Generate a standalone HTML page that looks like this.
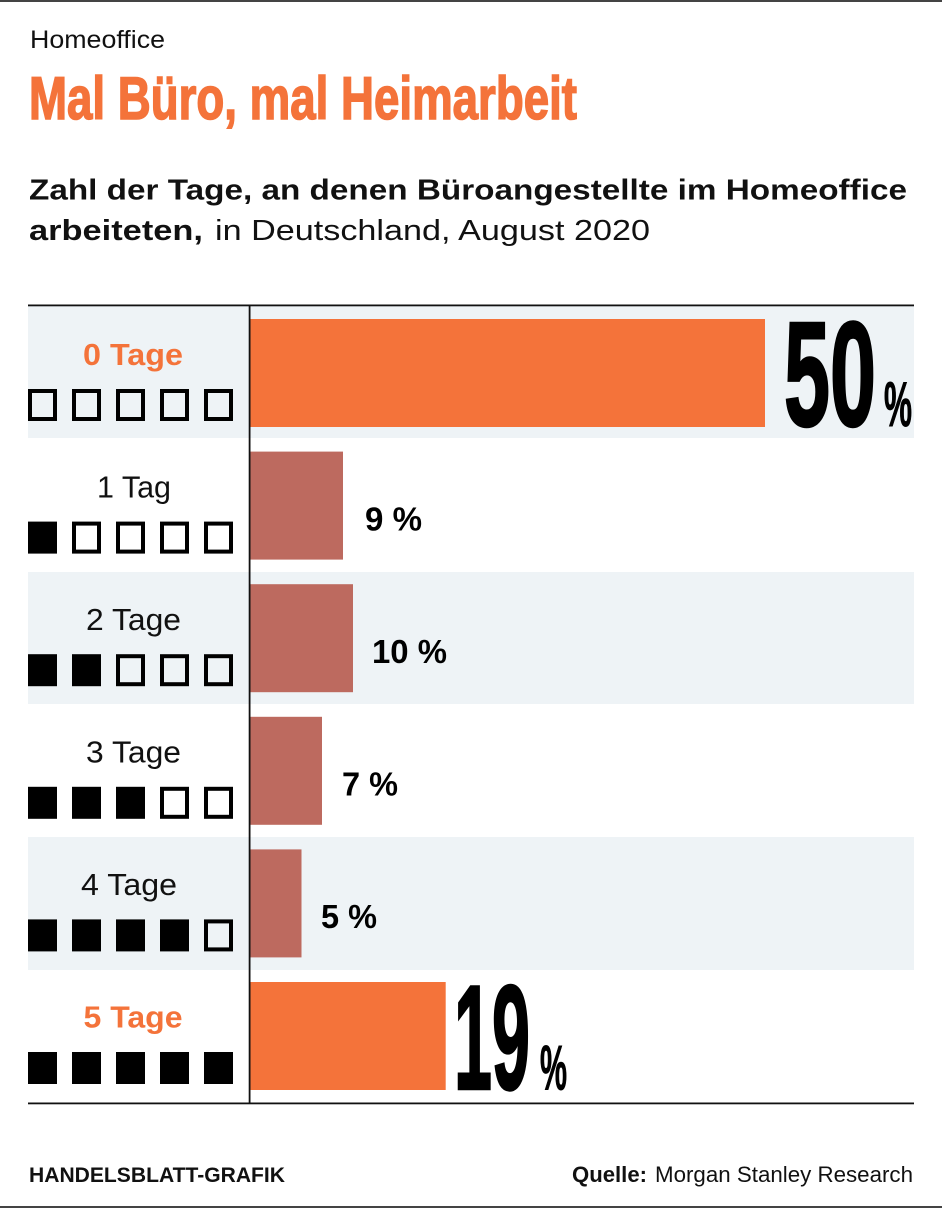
<!DOCTYPE html>
<html>
<head>
<meta charset="utf-8">
<style>
  html,body{margin:0;padding:0;background:#fff;}
  svg{display:block;}
  text{font-family:"Liberation Sans", Arial, sans-serif;}
</style>
</head>
<body>
<svg width="942" height="1208" viewBox="0 0 942 1208" xmlns="http://www.w3.org/2000/svg">
  <rect x="0" y="0" width="942" height="1208" fill="#fff"/>
  <!-- frame lines -->
  <rect x="0" y="0" width="942" height="2" fill="#444"/>
  <rect x="0" y="1206" width="942" height="2" fill="#444"/>

  <!-- header -->
  <text x="30" y="48" font-size="25" fill="#111" textLength="135" lengthAdjust="spacingAndGlyphs">Homeoffice</text>
  <text x="29" y="119" font-size="60" font-weight="bold" fill="#F4733A" stroke="#F4733A" stroke-width="1.6" textLength="548" lengthAdjust="spacingAndGlyphs">Mal Büro, mal Heimarbeit</text>

  <text x="29" y="199.5" font-size="28.5" font-weight="bold" fill="#111" textLength="878" lengthAdjust="spacingAndGlyphs">Zahl der Tage, an denen Büroangestellte im Homeoffice</text>
  <text x="29" y="240" font-size="28.5" font-weight="bold" fill="#111" textLength="174" lengthAdjust="spacingAndGlyphs">arbeiteten,</text>
  <text x="215" y="240" font-size="28.5" fill="#111" textLength="435" lengthAdjust="spacingAndGlyphs">in Deutschland, August 2020</text>

  <!-- bands -->
  <rect x="28" y="306" width="886" height="132" fill="#EEF3F6"/>
  <rect x="28" y="572" width="886" height="132" fill="#EEF3F6"/>
  <rect x="28" y="837" width="886" height="133" fill="#EEF3F6"/>

  <!-- bars -->
  <rect x="250" y="319" width="515" height="108" fill="#F4733A"/>
  <rect x="250" y="451.6" width="93" height="108" fill="#BD6A5F"/>
  <rect x="250" y="584.2" width="103" height="108" fill="#BD6A5F"/>
  <rect x="250" y="716.8" width="72" height="108" fill="#BD6A5F"/>
  <rect x="250" y="849.4" width="51.5" height="108" fill="#BD6A5F"/>
  <rect x="250" y="982" width="195.7" height="108" fill="#F4733A"/>

  <!-- axis lines -->
  <rect x="28" y="304.5" width="886" height="1.8" fill="#111"/>
  <rect x="28" y="1102.5" width="886" height="1.8" fill="#111"/>
  <rect x="248.7" y="305" width="1.8" height="798" fill="#111"/>

  <!-- row labels -->
  <g font-size="31" text-anchor="middle">
    <text x="133" y="365" font-weight="bold" fill="#F4733A" textLength="100" lengthAdjust="spacingAndGlyphs">0 Tage</text>
    <text x="134" y="497.5" fill="#111" textLength="74" lengthAdjust="spacingAndGlyphs">1 Tag</text>
    <text x="133.5" y="630" fill="#111" textLength="95" lengthAdjust="spacingAndGlyphs">2 Tage</text>
    <text x="133.5" y="762.5" fill="#111" textLength="95" lengthAdjust="spacingAndGlyphs">3 Tage</text>
    <text x="129" y="895" fill="#111" textLength="96" lengthAdjust="spacingAndGlyphs">4 Tage</text>
    <text x="133" y="1027.5" font-weight="bold" fill="#F4733A" textLength="99" lengthAdjust="spacingAndGlyphs">5 Tage</text>
  </g>

  <!-- squares: outer 29x32, stroke 4 -->
  <g fill="none" stroke="#000" stroke-width="4">
    <rect x="30" y="391" width="25" height="28"/>
    <rect x="74" y="391" width="25" height="28"/>
    <rect x="118" y="391" width="25" height="28"/>
    <rect x="162" y="391" width="25" height="28"/>
    <rect x="206" y="391" width="25" height="28"/>
    <rect x="74" y="523.6" width="25" height="28"/>
    <rect x="118" y="523.6" width="25" height="28"/>
    <rect x="162" y="523.6" width="25" height="28"/>
    <rect x="206" y="523.6" width="25" height="28"/>
    <rect x="118" y="656.2" width="25" height="28"/>
    <rect x="162" y="656.2" width="25" height="28"/>
    <rect x="206" y="656.2" width="25" height="28"/>
    <rect x="162" y="788.8" width="25" height="28"/>
    <rect x="206" y="788.8" width="25" height="28"/>
    <rect x="206" y="921.4" width="25" height="28"/>
  </g>
  <g fill="#000">
    <rect x="28" y="521.6" width="29" height="32"/>
    <rect x="28" y="654.2" width="29" height="32"/>
    <rect x="72" y="654.2" width="29" height="32"/>
    <rect x="28" y="786.8" width="29" height="32"/>
    <rect x="72" y="786.8" width="29" height="32"/>
    <rect x="116" y="786.8" width="29" height="32"/>
    <rect x="28" y="919.4" width="29" height="32"/>
    <rect x="72" y="919.4" width="29" height="32"/>
    <rect x="116" y="919.4" width="29" height="32"/>
    <rect x="160" y="919.4" width="29" height="32"/>
    <rect x="28" y="1052" width="29" height="32"/>
    <rect x="72" y="1052" width="29" height="32"/>
    <rect x="116" y="1052" width="29" height="32"/>
    <rect x="160" y="1052" width="29" height="32"/>
    <rect x="204" y="1052" width="29" height="32"/>
  </g>

  <!-- value labels -->
  <g font-size="33" font-weight="bold" fill="#000">
    <text x="365" y="530.5" textLength="57" lengthAdjust="spacingAndGlyphs">9 %</text>
    <text x="372" y="663" textLength="75" lengthAdjust="spacingAndGlyphs">10 %</text>
    <text x="342" y="795.5" textLength="56" lengthAdjust="spacingAndGlyphs">7 %</text>
    <text x="321" y="928" textLength="56" lengthAdjust="spacingAndGlyphs">5 %</text>
  </g>

  <!-- big numbers -->
  <g font-weight="bold" fill="#000" stroke="#000">
    <text x="784" y="425.5" font-size="149" stroke-width="2.5" textLength="92" lengthAdjust="spacingAndGlyphs">50</text>
    <text x="884" y="426" font-size="63" stroke-width="1" textLength="28" lengthAdjust="spacingAndGlyphs">%</text>
    <text x="454" y="1089" font-size="149" stroke-width="2.5" textLength="76" lengthAdjust="spacingAndGlyphs">19</text>
    <text x="540" y="1089.5" font-size="63" stroke-width="1" textLength="27" lengthAdjust="spacingAndGlyphs">%</text>
  </g>

  <!-- footer -->
  <text x="29" y="1182" font-size="21.5" font-weight="bold" fill="#111" textLength="256" lengthAdjust="spacingAndGlyphs">HANDELSBLATT-GRAFIK</text>
  <text x="572" y="1182" font-size="22" font-weight="bold" fill="#111" textLength="75" lengthAdjust="spacingAndGlyphs">Quelle:</text>
  <text x="655" y="1182" font-size="22" fill="#111" textLength="258" lengthAdjust="spacingAndGlyphs">Morgan Stanley Research</text>
</svg>
</body>
</html>
